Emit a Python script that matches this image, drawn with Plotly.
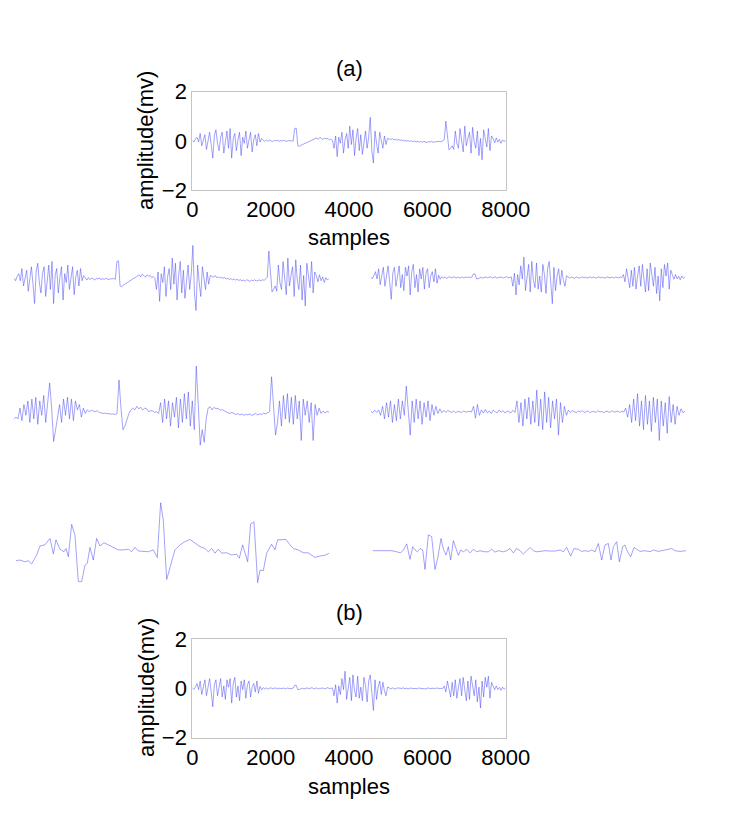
import numpy as np
import plotly.graph_objects as go

W, H = 746, 818

# ---------------- data ----------------
signal_a = [0.02, -0.05, 0.08,
            0.15, -0.05, 0.3, -0.2, 0.05, 0.25, -0.35, 0.1, 0.35, -0.15,
            -0.7, 0.2, 0.45, -0.1, -0.4, 0.15, 0.35, -0.5, 0.05, 0.4, -0.3, 0.5, -0.7, 0.1,
            0.3, -0.4, 0.05, 0.35, -0.6, 0.15, -0.1, 0.4, -0.3, 0.1, 0.35, -0.45, 0.05, 0.25, -0.2, 0.3, -0.05, 0.1,
            0.05, -0.03, 0.04, -0.02, 0.03, 0.0, -0.03, 0.02, 0.0, 0.03, -0.02, 0.01, -0.01, 0.02, 0.0, -0.02, 0.01, 0.0, 0.02, -0.01,
            0.5, 0.52, -0.2,
            -0.22, -0.18, -0.15, -0.1, -0.08, -0.05, -0.03, 0.0, 0.03, 0.05,
            0.08, 0.12, 0.06, 0.14, 0.1, 0.05, 0.12, 0.08, 0.1, 0.04, 0.07, 0.02,
            -0.3, 0.2, -0.64, 0.15,
            -0.1, 0.35, -0.5, 0.05, 0.3, -0.3, 0.6, -0.15, 0.45, -0.6, 0.1, 0.5, -0.4, 0.25, -0.55, 0.05, 0.4, -0.3, 0.15,
            0.96, -0.4, -0.9,
            0.4, -0.1, -0.5, 0.35, 0.05, -0.3, 0.2, -0.15, 0.1,
            0.08, 0.05, 0.1, 0.04, 0.06, 0.03, 0.05, 0.02, 0.04, 0.0, 0.02, -0.01, 0.01, -0.02, 0.0, -0.03, -0.01,
            -0.04, -0.02, -0.05, -0.03, -0.06, -0.02, -0.04, -0.07, -0.03, -0.05, -0.02, -0.06, -0.04, -0.03, -0.05,
            -0.02, -0.04, 0.0,
            0.05, 0.8, 0.3,
            -0.37, -0.3, -0.2, -0.35,
            0.4, -0.1, -0.3, 0.5, 0.05, -0.45, 0.6, -0.2, 0.1, 0.35, -0.5, 0.55, -0.05, -0.3, 0.4, -0.6, 0.1, -0.77,
            0.45, 0.05, -0.25, 0.5, -0.4, 0.2,
            0.1, -0.08, 0.12, -0.05, 0.06, -0.1, 0.04, -0.03, 0.02]

signal_b = [0.02, -0.04, 0.06,
            0.2, -0.05, 0.3, -0.25, 0.1, 0.35, -0.3, 0.05, 0.4, -0.15,
            -0.75, 0.15, 0.35, -0.3, 0.05, 0.4, -0.35, 0.1, -0.45, 0.35, 0.05, 0.4, -0.6, 0.2,
            0.45, -0.35, 0.1, -0.5, 0.3, -0.05, 0.35, -0.4, 0.15, 0.3, -0.35, 0.05, 0.2, -0.15, 0.3, -0.2, 0.08, -0.06,
            0.03, -0.02, 0.02, -0.03, 0.01, 0.02, -0.01, 0.0, 0.02, -0.02, 0.01, 0.0, -0.01, 0.02, -0.02, 0.01, 0.0, 0.02, -0.01, 0.01,
            0.12, 0.13, -0.05,
            -0.04, -0.02, 0.01, -0.02, 0.0, 0.02, -0.01, 0.01, 0.03, -0.02, 0.0, 0.02, -0.03, 0.01, 0.0, 0.02, -0.02,
            0.01, 0.03, -0.01, 0.0, 0.02,
            -0.3, 0.15, -0.6, 0.1,
            -0.25, 0.4, -0.05, 0.7, -0.45, 0.1, 0.45, -0.5, 0.55, -0.1, -0.35, 0.5, -0.4, 0.05, -0.5, 0.45, 0.1, -0.55, 0.3,
            0.55, -0.4, -0.9,
            0.35, -0.45, 0.05, 0.3, -0.25, 0.25, -0.1, -0.3, 0.06,
            0.03, -0.02, 0.02, 0.0, -0.03, 0.02, 0.01, -0.02, 0.0, 0.02, -0.01, 0.01, -0.02, 0.0, 0.02, -0.01, 0.01,
            0.0, -0.02, 0.02, 0.0, -0.01, 0.01, -0.02, 0.0, 0.02, -0.01, 0.0, 0.01, -0.02, 0.02, 0.0, -0.01, 0.01, 0.0,
            0.1, -0.15, 0.3, -0.05, -0.35, 0.25, -0.3,
            0.35, -0.4, 0.05, 0.4, -0.3, 0.45, -0.05, -0.5, 0.3, -0.45, 0.5, 0.1, -0.3, 0.35, -0.55, 0.05, -0.8, 0.3,
            -0.35, 0.45, 0.05, 0.5, -0.4, 0.25,
            0.08, -0.06, 0.1, -0.05, 0.04, -0.08, 0.05, -0.03, 0.02]

row2_left = [-0.2, -0.15, -0.2,
             0.1, -0.25, 0.2, -0.1, 0.3, -0.3, 0.35, -0.2, 0.4, -0.35, 0.3, -0.1, 0.45, -0.3, 0.2,
             0.8, 0.1, -0.83, -0.5,
             -0.2, 0.2, -0.3, 0.35, -0.1, 0.4, -0.2, 0.35, -0.25, 0.3, 0.05, 0.2, -0.15, 0.1, -0.05,
             0.05, 0.0, 0.04, 0.02, 0.0, 0.03, -0.02, -0.03, -0.05, -0.04, -0.06, -0.05, -0.07, -0.06, -0.08, -0.05,
             0.88, 0.1, -0.5,
             -0.4, -0.2, -0.05, 0.05, 0.1, 0.05, 0.15, 0.08, 0.12, 0.05, 0.1, 0.08, 0.0, 0.03, 0.02, -0.02, 0.0, -0.05,
             0.25, -0.3, 0.35, -0.2, 0.3, -0.4, 0.25, -0.15, 0.4, -0.45, 0.35, -0.3, 0.5, -0.2, 0.55, -0.4, 0.3, -0.5,
             1.27, 0.2, -0.93, -0.5, -0.85,
             -0.2, 0.1, 0.14, 0.05, 0.12, 0.08, 0.1, 0.04, 0.06, 0.02, 0.0,
             -0.03, -0.05, -0.02, -0.06, -0.08, -0.05, -0.09, -0.06, -0.1, -0.07, -0.09, -0.06, -0.1, -0.08, -0.05,
             -0.09, -0.06, -0.08, -0.04, -0.06, -0.02, 0.0,
             0.97, 0.2, -0.65,
             -0.3, 0.3, -0.4, 0.45, -0.2, 0.5, -0.3, 0.4, -0.35, 0.45, -0.2, 0.3, -0.8, 0.35, -0.1, 0.3, -0.3, 0.25,
             -0.8, 0.2, -0.1, 0.1,
             -0.05, 0.02, -0.04, 0.01, -0.01]

row2_right = [0.02, -0.03, 0.04, -0.02, 0.05,
              -0.1, 0.15, -0.2, 0.25, -0.15, 0.3, -0.3, 0.2, -0.25, 0.35, -0.2, 0.3, -0.1,
              0.71, -0.1, -0.65,
              0.3, -0.3, 0.35, -0.2, 0.3, -0.35, 0.25, -0.15, 0.3, -0.25, 0.2, -0.1, 0.15, -0.05, 0.08,
              -0.03, 0.04, -0.02, 0.03, 0.0, -0.02, 0.02, -0.03, 0.01, 0.0, -0.02, 0.02, -0.01, 0.0, 0.01, -0.01,
              0.15, -0.18, 0.2, -0.1,
              0.05, -0.04, 0.06, -0.03, 0.02, -0.05, 0.04, 0.0, -0.03, 0.05, -0.02, 0.03, -0.04, 0.02, 0.0, -0.03, 0.04, -0.02,
              0.3, -0.3, 0.25, -0.4, 0.35, -0.2, 0.4, -0.35, 0.3, -0.3, 0.6, -0.4, 0.35, -0.5, 0.55, -0.3, 0.4, -0.45,
              0.3, -0.2, 0.35, -0.65, 0.25, -0.3, 0.15, -0.1,
              0.04, -0.02, 0.03, 0.0, -0.03, 0.02, -0.01, 0.03, -0.02, 0.0, 0.02, -0.03, 0.01, 0.0, -0.02, 0.03, -0.01,
              0.01, -0.03, 0.02, 0.0, -0.02, 0.03, -0.01, 0.0, 0.02, -0.02, 0.01, -0.01,
              0.1, -0.15, 0.2, -0.3, 0.35, -0.25, 0.5, -0.4, 0.3, -0.5, 0.45, -0.35, 0.3, -0.55, 0.4, -0.3, 0.35, -0.8,
              0.3, -0.4, 0.25, -0.6, 0.42, -0.3, 0.2, -0.35, 0.15, -0.1, 0.08,
              -0.03, 0.02]

row3_left_t = [0, 102, 230, 315, 400, 528, 613, 740, 868, 953, 1021, 1123, 1225, 1277, 1336, 1421, 1506, 1591,
               1677, 1762, 1821, 1889, 1974, 2059, 2144, 2247, 2357, 2485, 2613, 2740, 2868, 2953, 3038, 3123,
               3251, 3378, 3506, 3608, 3693, 3761, 3847, 3932, 4059, 4187, 4315, 4442, 4570, 4698, 4825, 4910,
               4996, 5081, 5166, 5251, 5379, 5506, 5634, 5702, 5787, 5915, 5991, 6077, 6170, 6230, 6315, 6400,
               6527, 6612, 6680, 6783, 6893, 6996, 7081, 7209, 7337, 7464, 7634, 7762, 7889, 8000]
row3_left = [-0.27, -0.25, -0.30, -0.27, -0.36, -0.11, 0.14, 0.17, 0.35, -0.08, 0.31, 0.05, -0.02, 0.07, -0.16,
             0.74, 0.44, -0.85, -0.85, -0.39, -0.34, 0.10, -0.25, 0.35, 0.14, 0.23, 0.17, 0.10, 0.03, 0.03, 0.05,
             -0.02, 0.10, 0.0, -0.02, -0.02, 0.03, -0.18, 1.34, 0.86, -0.79, -0.44, 0.03, 0.17, 0.26, 0.32, 0.21,
             0.12, 0.07, -0.02, 0.07, -0.06, 0.05, -0.06, -0.05, -0.11, -0.09, -0.20, 0.17, -0.30, 0.75, 0.81,
             -0.88, -0.53, -0.55, -0.06, 0.19, 0.03, 0.31, 0.31, 0.32, 0.17, 0.07, 0.03, -0.05, -0.05, -0.18,
             -0.14, -0.12, -0.06]

row3_right_t = [0, 145, 230, 357, 485, 613, 715, 783, 868, 953, 1021, 1081, 1140, 1208, 1277, 1336, 1421, 1506,
                1591, 1659, 1745, 1804, 1872, 1932, 1991, 2059, 2128, 2187, 2247, 2315, 2400, 2485, 2570, 2655,
                2740, 2842, 2953, 3038, 3123, 3208, 3336, 3421, 3506, 3591, 3676, 3761, 3847, 3932, 4017, 4102,
                4187, 4272, 4400, 4527, 4655, 4783, 4868, 4953, 5055, 5140, 5251, 5336, 5421, 5506, 5591, 5676,
                5762, 5847, 5932, 6017, 6085, 6145, 6230, 6298, 6383, 6442, 6485, 6587, 6672, 6740, 6825, 6953,
                7081, 7166, 7294, 7379, 7506, 7634, 7719, 7846, 8000]
row3_right = [0, 0, -0.02, 0, 0, -0.03, -0.06, 0.02, 0.19, -0.24, 0.11, 0.02, -0.03, 0.06, 0.02, -0.52, 0.44,
              0.39, -0.52, -0.21, 0.34, 0.04, -0.12, 0.11, -0.26, 0.28, 0.06, -0.13, 0.02, -0.03, 0.04, -0.06,
              0.04, -0.03, 0, -0.03, -0.03, 0.04, -0.04, 0, -0.03, 0, 0.06, -0.06, 0.06, 0, -0.09, 0, 0.09, 0,
              -0.03, -0.02, 0, -0.01, -0.01, 0.02, -0.03, 0.09, -0.15, 0.06, 0.04, -0.02, 0, -0.02, 0.02, -0.03,
              0.20, -0.26, 0.16, 0.20, -0.26, 0.11, 0.25, -0.31, 0.11, 0.16, 0.02, -0.17, 0.09, 0.04, -0.02, 0,
              -0.03, 0.02, -0.02, 0, 0.02, 0.06, 0, -0.02, 0]

x_ticks = [0, 2000, 4000, 6000, 8000]
y_ticks = [-2, 0, 2]
titles = ["(a)", "(b)"]
x_title = "samples"
y_title = "amplitude(mv)"

# ---------------- layout helpers ----------------
def px_x(a, b):
    return [a / W, b / W]

def px_y(top, bottom):
    return [1 - bottom / H, 1 - top / H]

FONT = "Liberation Sans, Arial, Helvetica, sans-serif"
LINE = dict(color="rgb(70,70,240)", width=0.5)
FS = 22

fig = go.Figure()

def t_of(n):
    return np.linspace(0, 8000, n)

fig.add_trace(go.Scatter(x=t_of(len(signal_a)), y=signal_a, mode="lines", line=LINE,
                         xaxis="x", yaxis="y", showlegend=False))
fig.add_trace(go.Scatter(x=t_of(len(signal_b)), y=signal_b, mode="lines", line=LINE,
                         xaxis="x2", yaxis="y2", showlegend=False))
panels = [
    (t_of(len(signal_a)), signal_a, "x3", "y3"),
    (t_of(len(signal_b)), signal_b, "x4", "y4"),
    (t_of(len(row2_left)), row2_left, "x5", "y5"),
    (t_of(len(row2_right)), row2_right, "x6", "y6"),
    (row3_left_t, row3_left, "x7", "y7"),
    (row3_right_t, row3_right, "x8", "y8"),
]
for tx, vy, xa, ya in panels:
    fig.add_trace(go.Scatter(x=tx, y=vy, mode="lines", line=LINE,
                             xaxis=xa, yaxis=ya, showlegend=False))

main_x = dict(range=[0, 8000], tickvals=x_ticks, showline=True, linecolor="#c4c4c4", linewidth=1,
              mirror=True, ticks="", showgrid=False, zeroline=False, automargin=False,
              tickfont=dict(family=FONT, size=FS, color="black"))
main_y = dict(range=[-2, 2], tickvals=y_ticks, showline=True, linecolor="#c4c4c4", linewidth=1,
              mirror=True, ticks="", showgrid=False, zeroline=False, automargin=False,
              tickfont=dict(family=FONT, size=FS, color="black"))

hidden = dict(visible=False, showgrid=False, zeroline=False, automargin=False)

layout = dict(
    template="none",
    width=W, height=H, margin=dict(l=0, r=0, t=0, b=0, pad=0, autoexpand=False),
    autosize=False, showlegend=False,
    paper_bgcolor="white", plot_bgcolor="white",
    xaxis=dict(main_x, domain=px_x(192.3, 505.7), anchor="y"),
    yaxis=dict(main_y, domain=px_y(91.7, 190), anchor="x"),
    xaxis2=dict(main_x, domain=px_x(192.3, 505.7), anchor="y2"),
    yaxis2=dict(main_y, domain=px_y(639.3, 737.5), anchor="x2"),
    xaxis3=dict(hidden, range=[0, 8000], domain=px_x(14, 329), anchor="y3"),
    yaxis3=dict(hidden, range=[-1.43, 1.43], domain=px_y(229, 329), anchor="x3"),
    xaxis4=dict(hidden, range=[0, 8000], domain=px_x(370.7, 685), anchor="y4"),
    yaxis4=dict(hidden, range=[-1.72, 1.72], domain=px_y(227.5, 327.5), anchor="x4"),
    xaxis5=dict(hidden, range=[0, 8000], domain=px_x(14, 329), anchor="y5"),
    yaxis5=dict(hidden, range=[-1.667, 1.667], domain=px_y(351.7, 471.7), anchor="x5"),
    xaxis6=dict(hidden, range=[0, 8000], domain=px_x(370.7, 685), anchor="y6"),
    yaxis6=dict(hidden, range=[-1.667, 1.667], domain=px_y(351.7, 471.7), anchor="x6"),
    xaxis7=dict(hidden, range=[0, 8000], domain=px_x(16, 329.3), anchor="y7"),
    yaxis7=dict(hidden, range=[-1.667, 1.667], domain=px_y(491, 611), anchor="x7"),
    xaxis8=dict(hidden, range=[0, 8000], domain=px_x(372.7, 686), anchor="y8"),
    yaxis8=dict(hidden, range=[-1.667, 1.667], domain=px_y(490.7, 610.7), anchor="x8"),
)
fig.update_layout(**layout)

def ann(text, xpx, ypx, angle=0):
    fig.add_annotation(text=text, x=xpx / W, y=1 - ypx / H, xref="paper", yref="paper",
                       showarrow=False, textangle=angle, xanchor="center", yanchor="middle",
                       font=dict(family=FONT, size=FS, color="black"))

cx = (192.3 + 505.7) / 2
ann(titles[0], cx, 69)
ann(x_title, cx, 238)
ann(y_title, 146, 141, -90)
ann(titles[1], cx, 612)
ann(x_title, cx, 786)
ann(y_title, 146, 688, -90)

fig.write_html("out.html", config={"responsive": False, "displayModeBar": False},
               post_script="document.body.style.margin='0px';")
